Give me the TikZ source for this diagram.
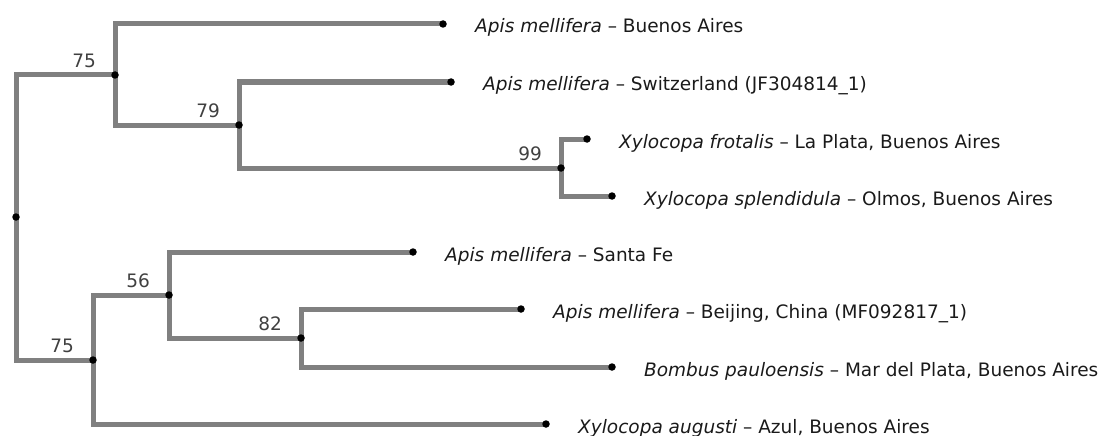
\documentclass[tikz,border=0pt]{standalone}
\usepackage{fontspec}
\setmainfont{DejaVu Sans}
\usetikzlibrary{positioning}
\definecolor{branch}{HTML}{808080}
\definecolor{support}{HTML}{404040}
\definecolor{taxon}{HTML}{1A1A1A}

\begin{document}
\begin{tikzpicture}[
  x=1pt, y=-1pt,
  every node/.style={font=\fontsize{18.5}{22}\selectfont},
  branch/.style={draw=branch, line width=5pt},
  dot/.style={circle, fill=black, inner sep=0pt, minimum size=7.5pt},
  boot/.style={text=support, inner sep=0pt},
  taxon/.style={anchor=base west, text=taxon, inner sep=0pt},
]
  \useasboundingbox (0,0) rectangle (1103,436);
  % internal nodes
  \coordinate (root) at (16,217);
  \coordinate (n75a) at (115,75);
  \coordinate (n79)  at (239,125);
  \coordinate (n99)  at (561,168);
  \coordinate (n75b) at (93,360);
  \coordinate (n56)  at (169,295);
  \coordinate (n82)  at (301,338);
  % tips
  \coordinate (tBA)  at (443,24);
  \coordinate (tSW)  at (451,82);
  \coordinate (tFR)  at (587,139);
  \coordinate (tSP)  at (612,196);
  \coordinate (tSF)  at (413,252);
  \coordinate (tBJ)  at (521,309);
  \coordinate (tBO)  at (612,367);
  \coordinate (tAU)  at (546,424);

  \foreach \p/\c in {root/n75a, root/n75b, n75a/tBA, n75a/n79, n79/tSW, n79/n99,
                     n99/tFR, n99/tSP, n75b/n56, n75b/tAU, n56/tSF, n56/n82,
                     n82/tBJ, n82/tBO}
    \draw[branch] (\p) |- (\c);

  \foreach \n in {root, n75a, n79, n99, n75b, n56, n82,
                  tBA, tSW, tFR, tSP, tSF, tBJ, tBO, tAU}
    \node[dot] at (\n) {};

  % support values
  \node[boot, above left=7pt and 19pt of n75a] (s75a) {75};
  \node[boot, above left=7pt and 19pt of n79]  (s79)  {79};
  \node[boot, above left=7pt and 19pt of n99]  (s99)  {99};
  \node[boot, above left=7pt and 19pt of n75b] (s75b) {75};
  \node[boot, above left=7pt and 19pt of n56]  (s56)  {56};
  \node[boot, above left=7pt and 19pt of n82]  (s82)  {82};

  % taxa
  \node[taxon] (lBA) at ([xshift=32pt, yshift=-9pt]tBA) {\textit{Apis mellifera} – Buenos Aires};
  \node[taxon] (lSW) at ([xshift=32pt, yshift=-9pt]tSW) {\textit{Apis mellifera} – Switzerland (JF304814\_1)};
  \node[taxon] (lFR) at ([xshift=32pt, yshift=-9pt]tFR) {\textit{Xylocopa frotalis} – La Plata, Buenos Aires};
  \node[taxon] (lSP) at ([xshift=32pt, yshift=-9pt]tSP) {\textit{Xylocopa splendidula} – Olmos, Buenos Aires};
  \node[taxon] (lSF) at ([xshift=32pt, yshift=-9pt]tSF) {\textit{Apis mellifera} – Santa Fe};
  \node[taxon] (lBJ) at ([xshift=32pt, yshift=-9pt]tBJ) {\textit{Apis mellifera} – Beijing, China (MF092817\_1)};
  \node[taxon] (lBO) at ([xshift=32pt, yshift=-9pt]tBO) {\textit{Bombus pauloensis} – Mar del Plata, Buenos Aires};
  \node[taxon] (lAU) at ([xshift=32pt, yshift=-9pt]tAU) {\textit{Xylocopa augusti} – Azul, Buenos Aires};
\end{tikzpicture}
\end{document}
